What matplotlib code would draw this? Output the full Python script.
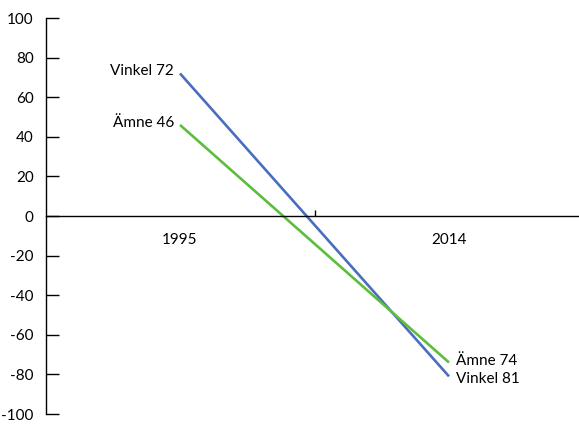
import matplotlib
matplotlib.use("Agg")
import matplotlib.pyplot as plt

categories = ["1995", "2014"]
vinkel = [72, -81]
amne = [46, -74]
start_labels = ["Vinkel 72", "Ämne 46"]
end_labels = ["Vinkel 81", "Ämne 74"]
yticks = list(range(-100, 101, 20))

plt.rcParams['font.family'] = ['Lato', 'DejaVu Sans']

fig = plt.figure(figsize=(5.79, 4.26), dpi=100)
ax = fig.add_axes([45.5/579, 12/426, 538/579, 396/426])

xpos = [0.5, 1.5]
blue = "#4a6ebf"
green = "#5dbd3c"
ax.plot(xpos, vinkel, color=blue, lw=1.9, solid_capstyle='butt')
ax.plot(xpos, amne, color=green, lw=1.9, solid_capstyle='butt')

ax.set_xlim(0, 2)
ax.set_ylim(-100, 100)

ax.spines['top'].set_visible(False)
ax.spines['right'].set_visible(False)
ax.spines['bottom'].set_position(('data', 0))
ax.spines['left'].set_linewidth(1.0)
ax.spines['bottom'].set_linewidth(1.0)

ax.set_yticks(yticks)
ax.set_yticklabels([str(v) for v in yticks])
ax.tick_params(axis='y', direction='in', length=9.5, width=1.0, pad=8.5, labelsize=11)

ax.set_xticks([1])
ax.set_xticklabels([""])
ax.tick_params(axis='x', which='major', direction='in', length=4.5, width=1.0)
ax.set_xticks(xpos, minor=True)
ax.set_xticklabels(categories, minor=True)
ax.tick_params(axis='x', which='minor', length=0, pad=12, labelsize=11)

fs = 11
ax.annotate(start_labels[0], (xpos[0], vinkel[0]), xytext=(-4.5, 1.5), textcoords='offset points',
            ha='right', va='center', fontsize=fs)
ax.annotate(start_labels[1], (xpos[0], amne[0]), xytext=(-4, 1.5), textcoords='offset points',
            ha='right', va='center', fontsize=fs)
ax.annotate(end_labels[1], (xpos[1], amne[1]), xytext=(5, 1), textcoords='offset points',
            ha='left', va='center', fontsize=fs)
ax.annotate(end_labels[0], (xpos[1], vinkel[1]), xytext=(5, -2), textcoords='offset points',
            ha='left', va='center', fontsize=fs)

fig.savefig("out.png", dpi=100)
